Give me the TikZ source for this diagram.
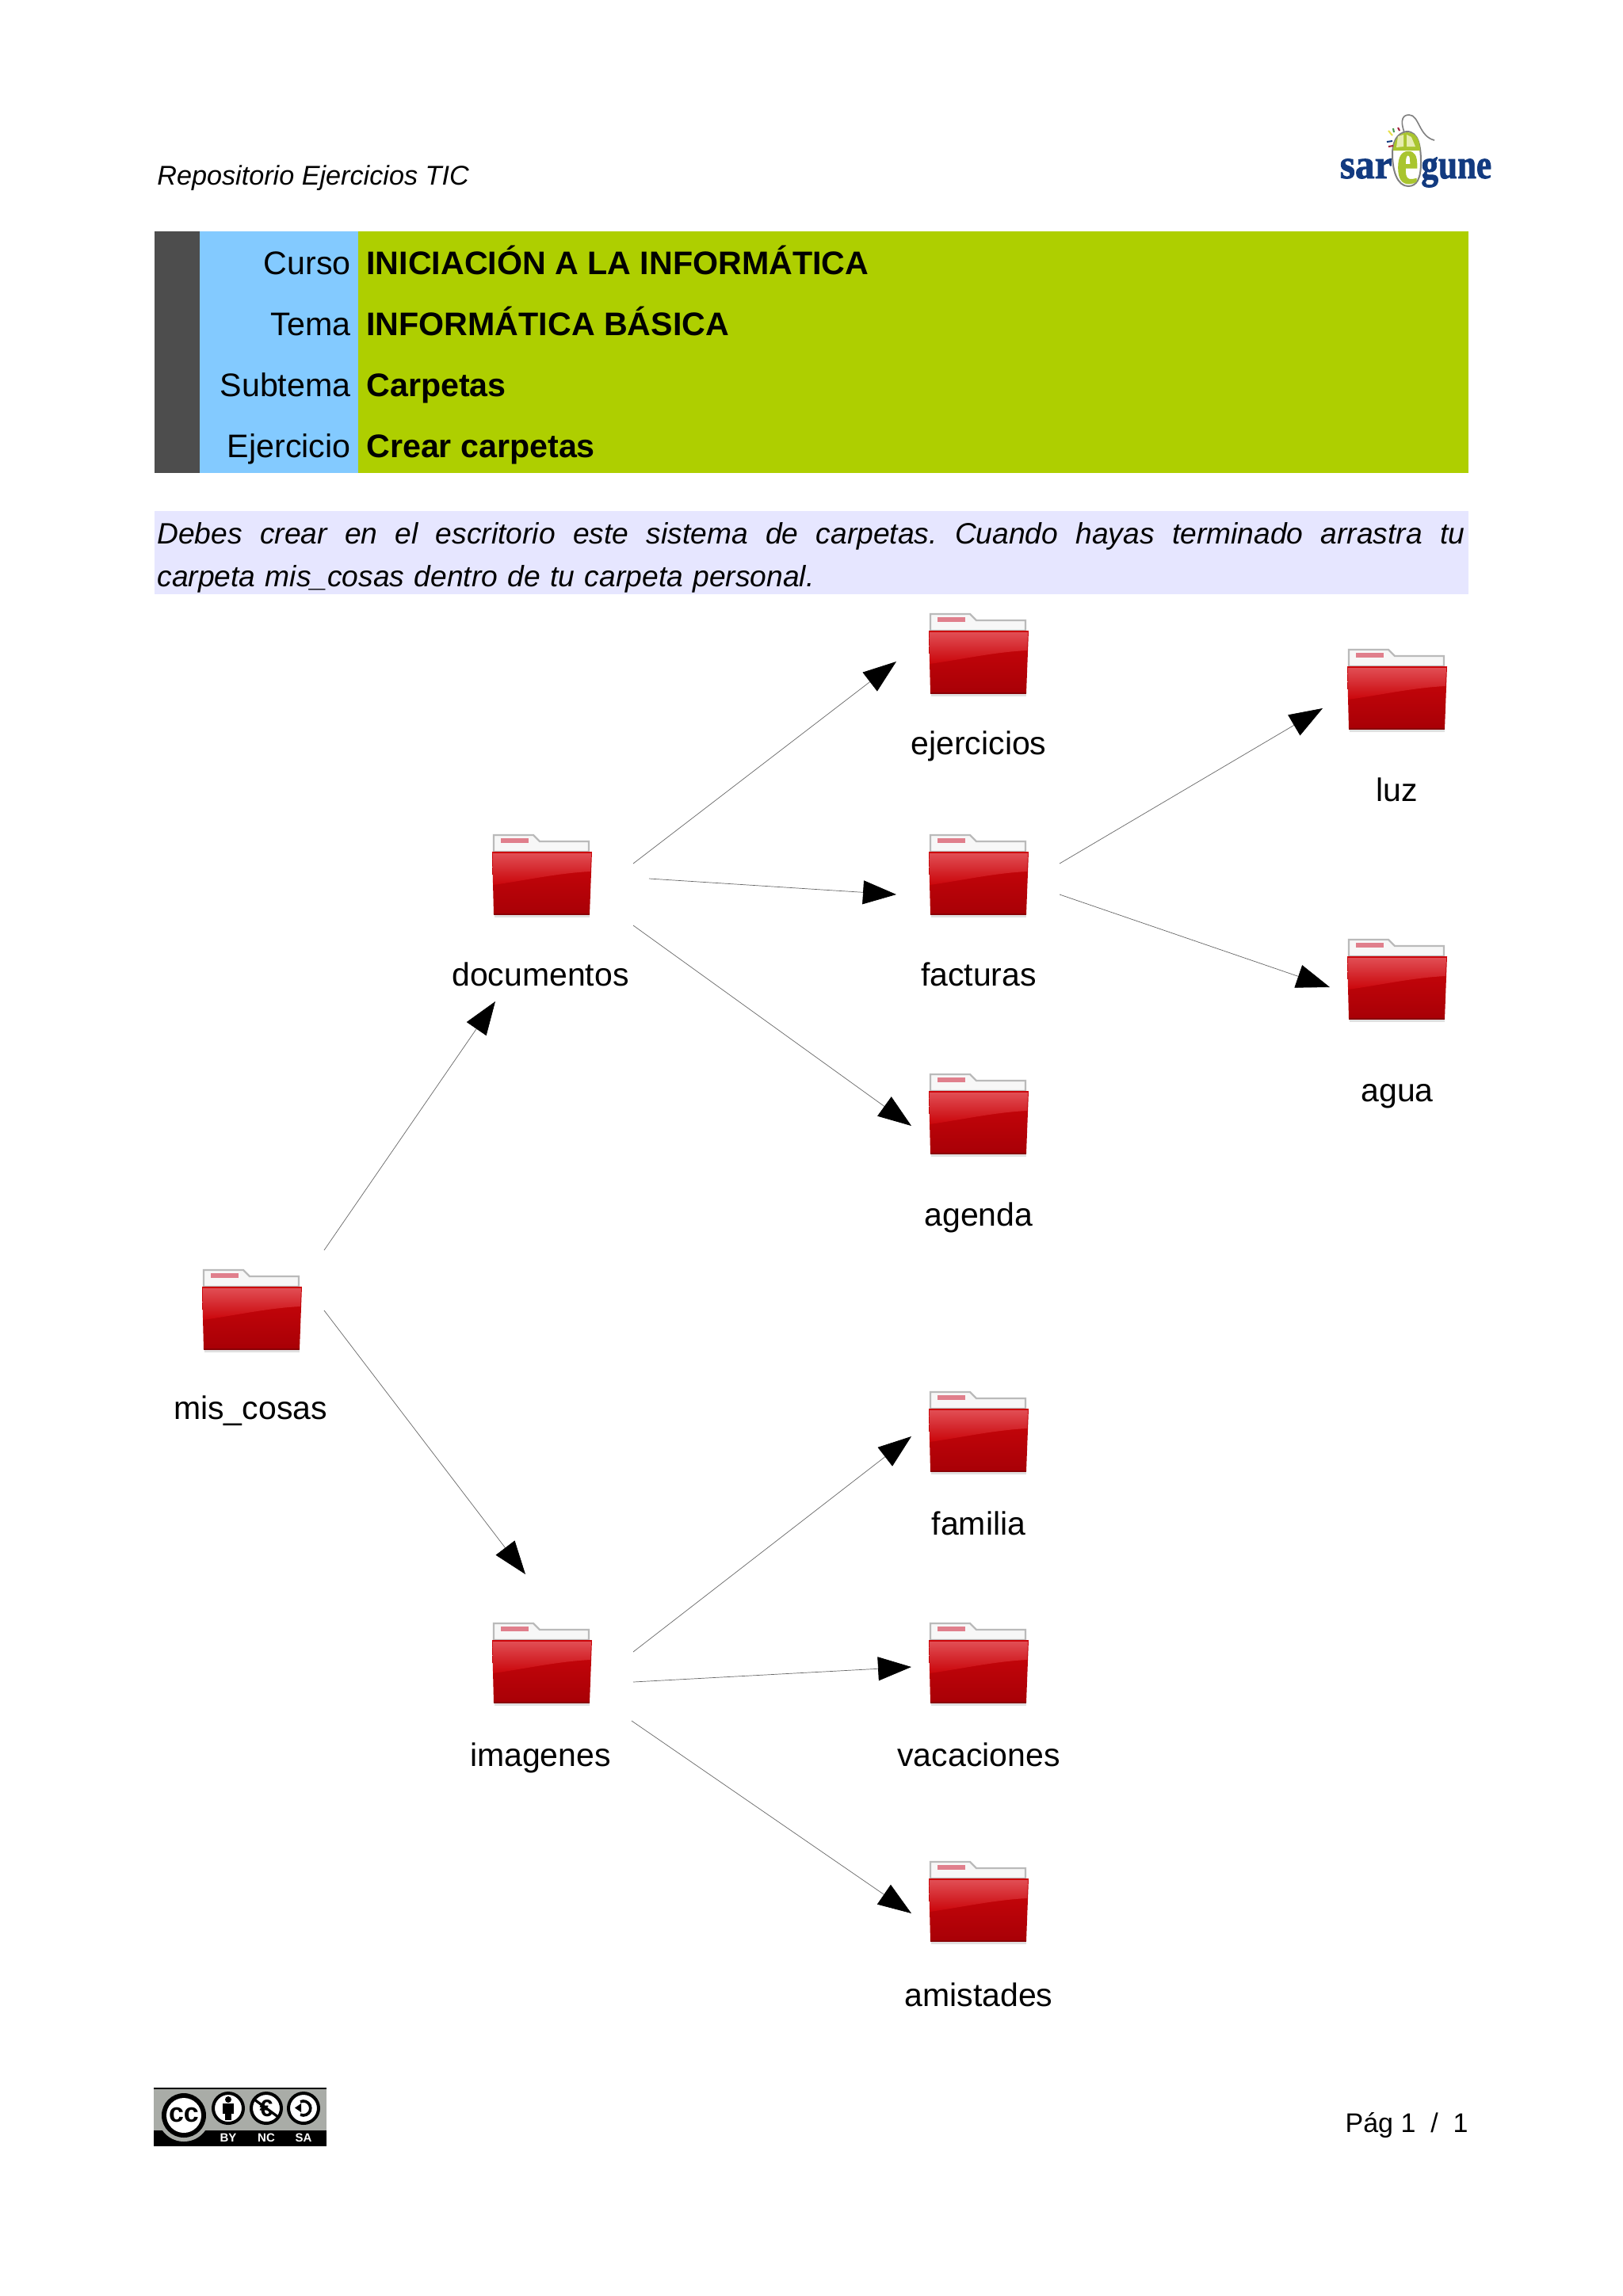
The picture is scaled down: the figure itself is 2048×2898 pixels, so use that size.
\documentclass[tikz,border=0pt]{standalone}
\usepackage{fontspec}
\setmainfont{Liberation Sans}
\newfontfamily\logofont[BoldFeatures={FakeBold=1.6}]{Liberation Serif}
\usetikzlibrary{arrows.meta,shadings}
\definecolor{hdark}{HTML}{4D4D4D}
\definecolor{hblue}{HTML}{83CAFF}
\definecolor{hgreen}{HTML}{AECF00}
\definecolor{hband}{HTML}{E6E6FF}
\definecolor{logoblue}{HTML}{123A80}
\definecolor{logogreen}{HTML}{A9C52F}
\definecolor{ccgray}{HTML}{A9ACA7}
\definecolor{fredmid}{HTML}{CC060B}
\definecolor{fredlow}{HTML}{A80006}
\definecolor{fredhi}{HTML}{E4565C}
\definecolor{fredline}{HTML}{8A0005}
\definecolor{flabel}{HTML}{E07F8C}
\definecolor{btnpale}{HTML}{E6EDB0}
\definecolor{sparky}{HTML}{E8E04A}
\definecolor{sparkg}{HTML}{4A9A4A}
\definecolor{sparkr}{HTML}{A0203A}
\tikzset{
  x=0.5pt,y=-0.5pt,
  lab/.style={anchor=base,inner sep=0,font=\fontsize{20.5}{24}\selectfont,text=black},
  rowlab/.style={anchor=base east,inner sep=0,font=\fontsize{20.6}{24}\selectfont,text=black},
  rowval/.style={anchor=base west,inner sep=0,font=\fontsize{20.6}{24}\selectfont\bfseries,text=black},
  conn/.style={draw=black!60,line width=0.35pt,-{Triangle[length=21pt,width=15pt,color=black]}},
  ccword/.style={anchor=base,inner sep=0,text=white,font=\fontsize{7.5}{8}\selectfont\bfseries},
  ccring/.style={draw=black,line width=2pt,fill=white},
  pics/folder/.style={code={
    \fill[black!12] (-60,100) rectangle (60,105);
    \filldraw[fill=black!3,draw=black!27,line width=1.2pt] (-61,22) -- (-61,1) -- (-11,1) -- (-3,9) -- (59,9) -- (59,22) -- cycle;
    \fill[flabel] (-52,5) rectangle (-17,11);
    \shade[top color=fredmid,bottom color=fredlow] (-63,22) -- (63,22) -- (60,101) -- (-61,101) -- cycle;
    \shade[top color=fredhi,bottom color=fredmid,opacity=.9] (-62,24) -- (62,24) -- (61,47) .. controls (20,49) and (-20,58) .. (-62,64) -- cycle;
    \draw[fredline,line width=.8pt] (-61,101) -- (60,101);
  }},
}
\begin{document}
\begin{tikzpicture}
\useasboundingbox (0,0) rectangle (2048,2898);
\fill[white] (0,0) rectangle (2048,2898);
% header
\node[anchor=base west,inner sep=0,font=\fontsize{17.1}{20}\selectfont\itshape,text=black] (repo) at (198,233) {Repositorio Ejercicios TIC};
% logo
\draw[black!50,line width=.8pt] (1772,167) .. controls (1766,150) and (1771,145) .. (1778,145) .. controls (1791,145) and (1790,172) .. (1810,177);
\filldraw[fill=white,draw=black!50,line width=1pt] (1775,166) .. controls (1790,166) and (1793,185) .. (1793,205) .. controls (1793,225) and (1788,235) .. (1777,235) .. controls (1763,235) and (1757,215) .. (1757,195) .. controls (1757,180) and (1762,168) .. (1775,166) -- cycle;
\fill[logogreen] (1775,167) .. controls (1789,167) and (1792,180) .. (1792,190) -- (1758,190) .. controls (1758,180) and (1763,169) .. (1775,167) -- cycle;
\fill[btnpale] (1764,172) -- (1771,170) -- (1771,185) -- (1762,186) -- cycle;
\fill[btnpale] (1775,170) -- (1781,173) -- (1786,185) -- (1775,185) -- cycle;
\node[anchor=base,inner sep=0,text=logogreen,font=\logofont\bfseries\fontsize{42}{44}\selectfont] (logoe) at (1776,231) {\scalebox{.72}[1]{e}};
\node[anchor=base east,inner sep=0,text=logoblue,font=\logofont\bfseries\fontsize{26}{28}\selectfont] (logosar) at (1757,225) {\scalebox{.95}[1]{sar}};
\node[anchor=base west,inner sep=0,text=logoblue,font=\logofont\bfseries\fontsize{26}{28}\selectfont] (logogune) at (1793,225) {\scalebox{.83}[1]{gune}};
\draw[sparky,line width=1pt] (1752,165) -- (1757,171);
\draw[sparkg,line width=1pt] (1758,162) -- (1759,167);
\draw[sparkr,line width=1pt] (1764,161) -- (1766,165);
\draw[logoblue,line width=1pt] (1750,179) -- (1757,178);
\draw[sparkr,line width=1pt] (1752,185) -- (1758,184);
% title block
\fill[hdark] (195,292) rectangle (252,597);
\fill[hblue] (252,292) rectangle (452,597);
\fill[hgreen] (452,292) rectangle (1853,597);
\node[rowlab] (r1) at (443,346) {Curso};
\node[rowlab] (r2) at (443,423) {Tema};
\node[rowlab] (r3) at (443,500) {Subtema};
\node[rowlab] (r4) at (443,577) {Ejercicio};
\node[rowval] (v1) at (462,346) {INICIACIÓN A LA INFORMÁTICA};
\node[rowval] (v2) at (462,423) {INFORMÁTICA BÁSICA};
\node[rowval] (v3) at (462,500) {Carpetas};
\node[rowval] (v4) at (462,577) {Crear carpetas};
% instructions
\fill[hband] (195,645) rectangle (1853,750);
\node[anchor=north west,inner sep=0,text width=826pt,align=left,text=black,font=\fontsize{18.6}{27}\selectfont\itshape] (instr) at (198,659) {\hbox to 825pt{Debes\hfill crear\hfill en\hfill el\hfill escritorio\hfill este\hfill sistema\hfill de\hfill carpetas.\hfill Cuando\hfill hayas\hfill terminado\hfill arrastra\hfill tu}\\carpeta mis\_cosas dentro de tu carpeta personal.};
% folders
\pic (fejer) at (1235,774) {folder};
\pic (ffact) at (1235,1053) {folder};
\pic (fagen) at (1235,1355) {folder};
\pic (fluz) at (1763,819) {folder};
\pic (fagua) at (1763,1185) {folder};
\pic (ffam) at (1235,1756) {folder};
\pic (fvac) at (1235,2048) {folder};
\pic (famis) at (1235,2349) {folder};
\pic (fdoc) at (684,1053) {folder};
\pic (fimg) at (684,2048) {folder};
\pic (fmis) at (318,1602) {folder};
% labels
\node[lab] (lejer) at (1235,952) {ejercicios};
\node[lab] (lfact) at (1235,1244) {facturas};
\node[lab] (lagen) at (1235,1547) {agenda};
\node[lab] (lluz) at (1763,1011) {luz};
\node[lab] (lagua) at (1763,1390) {agua};
\node[lab] (lfam) at (1235,1937) {familia};
\node[lab] (lvac) at (1235,2229) {vacaciones};
\node[lab] (lamis) at (1235,2532) {amistades};
\node[lab] (ldoc) at (682,1244) {documentos};
\node[lab] (limg) at (682,2229) {imagenes};
\node[lab] (lmis) at (316,1791) {mis\_cosas};
% connector ends
\coordinate (a1) at (409,1578); \coordinate (b1) at (625,1264);
\coordinate (a2) at (409,1654); \coordinate (b2) at (663,1987);
\coordinate (a3) at (799,1090); \coordinate (b3) at (1131,835);
\coordinate (a4) at (819,1109); \coordinate (b4) at (1131,1129);
\coordinate (a5) at (799,1168); \coordinate (b5) at (1150,1421);
\coordinate (a6) at (1337,1090); \coordinate (b6) at (1669,894);
\coordinate (a7) at (1337,1129); \coordinate (b7) at (1678,1246);
\coordinate (a8) at (799,2085); \coordinate (b8) at (1150,1813);
\coordinate (a9) at (799,2123); \coordinate (b9) at (1150,2104);
\coordinate (a10) at (797,2172); \coordinate (b10) at (1150,2415);
\foreach \i in {1,...,10} {\draw[conn] (a\i) -- (b\i);}
% cc badge
\fill[ccgray] (194,2636) rectangle (412,2689);
\fill[black] (194,2689) rectangle (412,2709);
\draw[black,line width=.8pt] (194,2636) -- (412,2636);
\fill[ccgray] (232,2670) circle[radius=33];
\fill[black] (232,2670) circle[radius=28];
\fill[white] (232,2670) circle[radius=22];
\node[inner sep=0,text=black,font=\fontsize{17}{18}\selectfont\bfseries] (cc) at (232,2669) {cc};
\draw[ccring] (288,2661) circle[radius=19];
\draw[ccring] (336,2661) circle[radius=19];
\draw[ccring] (383,2661) circle[radius=19];
\fill[black] (288,2650) circle[radius=4];
\fill[black] (281,2655) rectangle (295,2668);
\fill[black] (284,2668) rectangle (292,2676);
\node[inner sep=0,text=black,font=\fontsize{15}{16}\selectfont\bfseries] (nc) at (336,2661) {€};
\draw[black,line width=1.6pt] (321,2650) -- (351,2672);
\draw[black,line width=1.8pt] (379,2652.8) arc[start angle=-115,end angle=115,radius=9];
\fill[black] (372,2660.5) -- (380,2655) -- (380,2666) -- cycle;
\node[ccword] (by) at (288,2703) {BY};
\node[ccword] (ncw) at (336,2703) {NC};
\node[ccword] (sa) at (383,2703) {SA};
% page
\node[anchor=base east,inner sep=0,text=black,font=\fontsize{17}{20}\selectfont] (pag) at (1853,2691) {Pág 1\ \ /\ \ 1};
\end{tikzpicture}
\end{document}
